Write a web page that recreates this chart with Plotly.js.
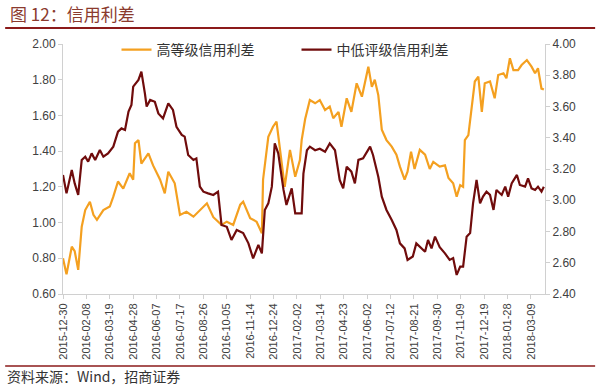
<!DOCTYPE html>
<html>
<head>
<meta charset="utf-8">
<script src="https://cdn.plot.ly/plotly-3.0.1.min.js"></script>
<style>html,body{margin:0;padding:0;background:#fff;}#chart{width:600px;height:387px;}</style>
</head>
<body>
<div id="chart"></div>
<script>
// 高等级信用利差 (left axis)
const highDates = ["2015-12-30","2016-01-05","2016-01-14","2016-01-19","2016-01-25","2016-01-31","2016-02-06","2016-02-14","2016-02-20","2016-02-26","2016-03-08","2016-03-19","2016-03-25","2016-04-02","2016-04-11","2016-04-22","2016-04-28","2016-05-01","2016-05-07","2016-05-12","2016-05-24","2016-06-01","2016-06-13","2016-06-21","2016-06-27","2016-07-08","2016-07-17","2016-07-28","2016-08-09","2016-08-20","2016-09-01","2016-09-12","2016-09-26","2016-10-05","2016-10-16","2016-10-28","2016-11-02","2016-11-14","2016-11-25","2016-12-04","2016-12-06","2016-12-15","2016-12-23","2016-12-29","2017-01-04","2017-01-12","2017-01-21","2017-01-30","2017-02-07","2017-02-10","2017-02-16","2017-02-24","2017-03-05","2017-03-13","2017-03-22","2017-03-30","2017-04-05","2017-04-14","2017-04-19","2017-04-28","2017-05-06","2017-05-15","2017-05-24","2017-06-04","2017-06-10","2017-06-15","2017-06-21","2017-06-27","2017-07-05","2017-07-14","2017-07-22","2017-07-28","2017-08-05","2017-08-10","2017-08-16","2017-08-22","2017-08-31","2017-09-09","2017-09-17","2017-09-23","2017-10-04","2017-10-13","2017-10-19","2017-10-27","2017-11-02","2017-11-08","2017-11-13","2017-11-16","2017-11-22","2017-11-28","2017-12-03","2017-12-09","2017-12-15","2017-12-20","2017-12-29","2018-01-06","2018-01-12","2018-01-21","2018-01-26","2018-02-01","2018-02-07","2018-02-15","2018-02-21","2018-03-02","2018-03-10","2018-03-16","2018-03-21","2018-03-27","2018-03-31"];
const highValues = [0.80,0.71,0.865,0.84,0.735,0.977,1.07,1.117,1.043,1.015,1.07,1.09,1.145,1.23,1.19,1.276,1.24,1.444,1.462,1.33,1.388,1.32,1.24,1.164,1.285,1.22,1.043,1.06,1.033,1.07,1.108,1.03,0.987,1.005,0.987,1.10,1.117,1.024,1.005,0.94,1.24,1.48,1.537,1.565,1.407,1.20,1.407,1.257,1.35,1.462,1.58,1.686,1.668,1.686,1.63,1.65,1.584,1.62,1.537,1.696,1.62,1.78,1.705,1.873,1.76,1.80,1.714,1.52,1.462,1.425,1.38,1.313,1.24,1.285,1.397,1.30,1.407,1.38,1.30,1.34,1.313,1.32,1.25,1.22,1.145,1.21,1.20,1.462,1.49,1.65,1.79,1.817,1.62,1.78,1.79,1.696,1.826,1.836,1.808,1.92,1.854,1.854,1.882,1.91,1.873,1.836,1.864,1.75,1.745];

// 中低评级信用利差 (right axis)
const lowDates = ["2015-12-30","2016-01-05","2016-01-14","2016-01-19","2016-01-25","2016-01-31","2016-02-06","2016-02-11","2016-02-17","2016-02-23","2016-03-02","2016-03-08","2016-03-16","2016-03-25","2016-04-02","2016-04-08","2016-04-14","2016-04-20","2016-04-25","2016-04-28","2016-05-07","2016-05-12","2016-05-18","2016-05-21","2016-05-27","2016-06-04","2016-06-10","2016-06-18","2016-06-27","2016-07-05","2016-07-11","2016-07-20","2016-07-25","2016-07-31","2016-08-09","2016-08-14","2016-08-20","2016-08-26","2016-09-03","2016-09-12","2016-09-20","2016-09-26","2016-10-05","2016-10-13","2016-10-22","2016-11-02","2016-11-11","2016-11-19","2016-11-28","2016-12-04","2016-12-09","2016-12-15","2016-12-21","2016-12-26","2017-01-01","2017-01-10","2017-01-15","2017-01-24","2017-01-30","2017-02-10","2017-02-13","2017-02-19","2017-02-24","2017-03-05","2017-03-13","2017-03-22","2017-03-30","2017-04-08","2017-04-16","2017-04-22","2017-04-28","2017-05-06","2017-05-12","2017-05-18","2017-05-26","2017-06-07","2017-06-12","2017-06-21","2017-06-27","2017-07-05","2017-07-14","2017-07-22","2017-07-28","2017-08-05","2017-08-10","2017-08-19","2017-08-25","2017-08-31","2017-09-09","2017-09-14","2017-09-20","2017-09-26","2017-10-04","2017-10-13","2017-10-21","2017-10-27","2017-11-02","2017-11-08","2017-11-13","2017-11-19","2017-11-25","2017-11-30","2017-12-06","2017-12-12","2017-12-17","2017-12-23","2017-12-29","2018-01-04","2018-01-09","2018-01-18","2018-01-24","2018-01-29","2018-02-04","2018-02-13","2018-02-18","2018-02-27","2018-03-04","2018-03-10","2018-03-16","2018-03-21","2018-03-27","2018-03-31"];
const lowValues = [3.162,3.044,3.194,3.108,3.034,3.258,3.279,3.247,3.30,3.258,3.322,3.279,3.30,3.343,3.439,3.46,3.45,3.567,3.61,3.727,3.77,3.823,3.684,3.60,3.642,3.63,3.556,3.524,3.62,3.578,3.47,3.418,3.407,3.29,3.258,3.268,3.087,3.055,3.044,3.034,3.055,2.842,2.83,2.746,2.81,2.79,2.724,2.628,2.714,2.66,2.938,2.98,3.087,3.364,3.30,3.066,2.97,3.076,2.916,2.916,3.17,3.32,3.343,3.32,3.33,3.31,3.364,3.32,3.13,3.076,3.215,3.183,3.108,3.258,3.268,3.343,3.29,3.15,3.023,2.938,2.874,2.81,2.724,2.692,2.618,2.64,2.724,2.70,2.67,2.746,2.692,2.767,2.70,2.66,2.618,2.63,2.522,2.575,2.575,2.767,2.79,2.98,3.13,2.98,3.023,3.055,3.034,2.938,3.066,3.034,3.087,3.023,3.108,3.162,3.098,3.087,3.14,3.076,3.066,3.087,3.055,3.087];

const seriesNames = ["高等级信用利差", "中低评级信用利差"];
const titleText = "图 12：信用利差";
const sourceText = "资料来源：Wind，招商证券";

const traces = [
  {x: highDates, y: highValues, name: seriesNames[0], type: "scatter", mode: "lines",
   line: {color: "#F4A020", width: 2.2}, yaxis: "y"},
  {x: lowDates, y: lowValues, name: seriesNames[1], type: "scatter", mode: "lines",
   line: {color: "#700C0C", width: 2.2}, yaxis: "y2"}
];

const axisFont = {family: "Liberation Sans, Arial, sans-serif", size: 12, color: "#404040"};

const layout = {
  width: 600, height: 387,
  margin: {l: 63, r: 55, t: 44, b: 93},
  paper_bgcolor: "#fff", plot_bgcolor: "#fff",
  showlegend: true,
  legend: {orientation: "h", x: 0.111, xanchor: "left", y: 0.976, yanchor: "middle",
           font: {family: "Noto Sans CJK SC, sans-serif", size: 14, color: "#333"},
           bgcolor: "rgba(0,0,0,0)", entrywidth: 135, entrywidthmode: "pixels", itemwidth: 30},
  xaxis: {type: "date", range: ["2015-12-30", "2018-04-02"],
          tick0: "2015-12-30", dtick: 40 * 86400000, tickformat: "%Y-%m-%d", tickangle: -90,
          showgrid: false, zeroline: false, showline: true, linecolor: "#d0d0d0", linewidth: 1,
          ticks: "outside", ticklen: 4, tickcolor: "#d0d0d0",
          tickfont: {family: "Liberation Sans, Arial, sans-serif", size: 11, color: "#404040"}},
  yaxis: {range: [0.6, 2.0], dtick: 0.2, tick0: 0.6, tickformat: ".2f",
          showgrid: false, zeroline: false, showline: true, linecolor: "#d0d0d0", linewidth: 1,
          ticks: "outside", ticklen: 4, tickcolor: "#d0d0d0", tickfont: axisFont},
  yaxis2: {range: [2.4, 4.0], dtick: 0.2, tick0: 2.4, tickformat: ".2f", overlaying: "y", side: "right",
           showgrid: false, zeroline: false, showline: true, linecolor: "#d0d0d0", linewidth: 1,
           ticks: "outside", ticklen: 4, tickcolor: "#d0d0d0", tickfont: axisFont},
  annotations: [
    {text: titleText, xref: "paper", yref: "paper", x: -0.115, y: 1.12, xanchor: "left", yanchor: "middle",
     showarrow: false, font: {family: "Noto Sans CJK SC, sans-serif", size: 17, color: "#8B3A2E"}},
    {text: sourceText, xref: "paper", yref: "paper", x: -0.12, y: -0.326, xanchor: "left", yanchor: "middle",
     showarrow: false, font: {family: "Noto Sans CJK SC, sans-serif", size: 14, color: "#333"}}
  ],
  shapes: [
    {type: "line", xref: "paper", yref: "paper", x0: -0.12, x1: 1.104, y0: 1.064, y1: 1.064,
     line: {color: "#8B1A1A", width: 2}},
    {type: "line", xref: "paper", yref: "paper", x0: -0.12, x1: 1.104, y0: -0.288, y1: -0.288,
     line: {color: "#8B1A1A", width: 1.5}}
  ]
};

Plotly.newPlot("chart", traces, layout, {displayModeBar: false, staticPlot: true});
</script>
</body>
</html>
